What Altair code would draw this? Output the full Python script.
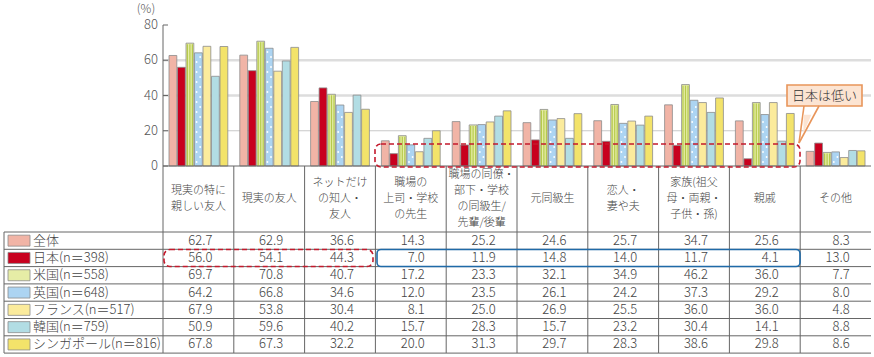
import altair as alt
import pandas as pd

# ---------------- data ----------------
categories = ["現実の特に\n親しい友人", "現実の友人", "ネットだけ\nの知人・\n友人",
              "職場の\n上司・学校\nの先生", "職場の同僚・\n部下・学校\nの同級生/\n先輩/後輩",
              "元同級生", "恋人・\n妻や夫", "家族(祖父\n母・両親・\n子供・孫)", "親戚", "その他"]
series = ["全体", "日本(n＝398)", "米国(n＝558)", "英国(n＝648)",
          "フランス(n＝517)", "韓国(n＝759)", "シンガポール(n＝816)"]
v_all = [62.7, 62.9, 36.6, 14.3, 25.2, 24.6, 25.7, 34.7, 25.6, 8.3]
v_jp = [56.0, 54.1, 44.3, 7.0, 11.9, 14.8, 14.0, 11.7, 4.1, 13.0]
v_us = [69.7, 70.8, 40.7, 17.2, 23.3, 32.1, 34.9, 46.2, 36.0, 7.7]
v_uk = [64.2, 66.8, 34.6, 12.0, 23.5, 26.1, 24.2, 37.3, 29.2, 8.0]
v_fr = [67.9, 53.8, 30.4, 8.1, 25.0, 26.9, 25.5, 36.0, 36.0, 4.8]
v_kr = [50.9, 59.6, 40.2, 15.7, 28.3, 15.7, 23.2, 30.4, 14.1, 8.8]
v_sg = [67.8, 67.3, 32.2, 20.0, 31.3, 29.7, 28.3, 38.6, 29.8, 8.6]
y_ticks = [0, 20, 40, 60, 80]
unit_label = "(%)"
callout_text = "日本は低い"

colors = ["#f1b4a6", "#c8001e", "#e6eda6", "#acd4f2", "#fbeb9c", "#b2dde4", "#f3e36a"]
stripe_color = "#b6ca4c"

all_values = [v_all, v_jp, v_us, v_uk, v_fr, v_kr, v_sg]

# ---------------- layout helpers ----------------
W, H = 874, 357
X0, PX = 163.0, 70.8      # pixel of x=0, pixels per category
Y0, PY = 166.0, 1.7625    # pixel of y=0, pixels per percent
ROW_TOP, ROW_H = 232.0, 17.3
FONT = "Noto Sans CJK JP"
TXT = "#444444"


def ux(p):
    return (p - X0) / PX


def uy(p):
    return (Y0 - p) / PY


def row_y(si, off=0.0):
    return uy(ROW_TOP + ROW_H * (si + 0.5) + off)


xs = alt.Scale(domain=[ux(0), ux(W)], nice=False, zero=False)
ys = alt.Scale(domain=[uy(H), uy(0)], nice=False, zero=False)


def X(f):
    return alt.X(f, type="quantitative", scale=xs, axis=None)


def Y(f):
    return alt.Y(f, type="quantitative", scale=ys, axis=None)


pitch = 8.5 / PX
gap = 0.35 / PX

rows = []
stripes = []
dots = []
for si, (s, vals) in enumerate(zip(series, all_values)):
    for ci, v in enumerate(vals):
        xc = ci + 0.5 + (si - 3) * pitch
        rows.append({
            "series": s, "si": si, "ci": ci, "value": v, "zero": 0.0,
            "x1": xc - pitch / 2 + gap, "x2": xc + pitch / 2 - gap,
            "xn": ci + 0.5 + 14 / PX, "yn": row_y(si),
        })
        if si == 2:  # vertical stripes pattern of 米国
            for off in (-2.5, 0.0, 2.5):
                stripes.append((xc + off / PX, 0.0, xc + off / PX, v - 0.6))
        if si == 3:  # white dot pattern of 英国
            k = 0
            yp = 4.0
            while yp < v * PY - 2.5:
                dots.append((xc + (-1.8 if k % 2 == 0 else 1.8) / PX, yp / PY))
                yp += 5.0
                k += 1
df = pd.DataFrame(rows)

color_enc = alt.Color("series:N", scale=alt.Scale(domain=series, range=colors), legend=None)

bars = alt.Chart(df).mark_rect(stroke="#8c8c8c", strokeWidth=0.8).encode(
    x=X("x1"), x2="x2:Q", y=Y("value"), y2="zero:Q", color=color_enc,
)


def seg_chart(data, **mark):
    return alt.Chart(pd.DataFrame(data, columns=["x", "y", "x2", "y2"])).mark_rule(**mark).encode(
        x=X("x"), y=Y("y"), x2="x2:Q", y2="y2:Q",
    )


# legend column
leg_df = pd.DataFrame({
    "series": series,
    "xa": [ux(8)] * 7, "xb": [ux(30)] * 7, "xt": [ux(33)] * 7,
    "yc": [row_y(i) for i in range(7)],
    "ya": [row_y(i, -5.5) for i in range(7)],
    "yb": [row_y(i, 5.5) for i in range(7)],
})
for k in range(7):
    xp = 9.5 + 3.0 * k
    stripes.append((ux(xp), row_y(2, 5.0), ux(xp), row_y(2, -5.0)))
for r in range(3):
    for k in range(6):
        xp = 10.0 + 3.7 * k + (1.8 if r % 2 else 0)
        if xp < 29:
            dots.append((ux(xp), row_y(3, -3.5 + 3.5 * r)))

stripe_layer = seg_chart(stripes, color=stripe_color, strokeWidth=1.2)
dot_layer = alt.Chart(pd.DataFrame(dots, columns=["x", "y"])).mark_point(
    shape="circle", filled=True, color="white", opacity=1, size=3.5
).encode(x=X("x"), y=Y("y"))

# gridlines
grid_thin = seg_chart([(0, 20, 10, 20)], color="#c8c8c8", strokeWidth=1)
grid_thick = seg_chart([(0, 40, 10, 40), (0, 60, 10, 60)], color="#dddddd", strokeWidth=2.5)

# y axis ticks + labels
ticks = seg_chart([(0, t, ux(X0 + 5), t) for t in y_ticks], color="#666", strokeWidth=1)
tl_df = pd.DataFrame({"v": y_ticks, "x": [ux(X0 - 5)] * len(y_ticks)})
tick_labels = alt.Chart(tl_df).mark_text(
    align="right", baseline="middle", font=FONT, fontSize=13, color="#555", fontWeight=300
).encode(x=X("x"), y=Y("v"), text="v:Q")

unit = alt.Chart(pd.DataFrame({"t": [unit_label], "x": [ux(146)], "y": [uy(9)]})).mark_text(
    align="center", baseline="middle", font=FONT, fontSize=12, color="#555", fontWeight=300
).encode(x=X("x"), y=Y("y"), text="t:N")

# structural lines (axis, table grid)
lines = [(0, uy(25), 0, uy(353)), (0, 0, 10, 0)]
for k in range(1, 10):
    lines.append((k, 0, k, uy(353)))
for r in range(8):
    yp = ROW_TOP + ROW_H * r
    lines.append((ux(4), uy(yp), 10, uy(yp)))
lines.append((ux(4), uy(ROW_TOP), ux(4), uy(353)))
table_lines = seg_chart(lines, color="#666", strokeWidth=1)

# header text (multi-line, block centred vertically in the header row)
LH = 16.0
hdr_df = pd.DataFrame({
    "cat": categories,
    "x": [c + 0.5 for c in range(10)],
    "y": [uy(199 - (cat.count("\n")) * LH / 2) for cat in categories],
})
header = alt.Chart(hdr_df).mark_text(
    align="center", baseline="middle", font=FONT, fontSize=11, color=TXT, fontWeight=300,
    lineBreak="\n", lineHeight=LH,
).encode(x=X("x"), y=Y("y"), text="cat:N")

# table numbers
nums = alt.Chart(df).mark_text(align="right", baseline="middle", font=FONT, fontSize=13,
                               color=TXT, fontWeight=300).encode(
    x=X("xn"), y=Y("yn"), text=alt.Text("value:Q", format=".1f")
)

leg_sw = alt.Chart(leg_df).mark_rect(stroke="#8c8c8c", strokeWidth=0.8).encode(
    x=X("xa"), x2="xb:Q", y=Y("ya"), y2="yb:Q", color=color_enc,
)
leg_txt = alt.Chart(leg_df).mark_text(align="left", baseline="middle", font=FONT, fontSize=13,
                                      color=TXT, fontWeight=300).encode(
    x=X("xt"), y=Y("yc"), text="series:N"
)


def box_chart(data, **mark):
    return alt.Chart(pd.DataFrame(data, columns=["x", "x2", "y", "y2"])).mark_rect(**mark).encode(
        x=X("x"), x2="x2:Q", y=Y("y"), y2="y2:Q"
    )


red_boxes = box_chart(
    [(ux(375), ux(800), uy(144), uy(167)), (ux(164), ux(373), uy(249.5), uy(266.5))],
    fillOpacity=0, stroke="#c41a2c", strokeWidth=1.6, strokeDash=[5, 3], cornerRadius=6,
)
blue_box = box_chart(
    [(ux(377), ux(800), uy(249.5), uy(266.5))],
    fillOpacity=0, stroke="#1f6aa8", strokeWidth=1.6, cornerRadius=4,
)

# callout
call_box = box_chart([(ux(787), ux(862), uy(85), uy(106))],
                     fill="#fce4d2", stroke="#e8955a", strokeWidth=1.6)
edges = seg_chart([(ux(804), uy(106), ux(799), uy(143)), (ux(819), uy(106), ux(799), uy(143))],
                  color="#e8955a", strokeWidth=1.6)
tri_df = pd.DataFrame({"x": [ux(807.5)], "y": [uy(124)]})
tri = alt.Chart(tri_df).mark_point(
    shape="M -0.42 -1 L 0.42 -1 L -0.45 1 Z", filled=True, fill="#fce4d2", opacity=1,
    size=18.5 * 18.5, strokeWidth=0,
).encode(x=X("x"), y=Y("y"))
call_txt = alt.Chart(pd.DataFrame({"t": [callout_text], "x": [ux(824.5)], "y": [uy(95.5)]})).mark_text(
    align="center", baseline="middle", font=FONT, fontSize=13, color="#333", fontWeight=300
).encode(x=X("x"), y=Y("y"), text="t:N")

chart = alt.layer(
    grid_thin, grid_thick, bars, stripe_layer, dot_layer, table_lines, ticks, tick_labels,
    unit, header, nums, leg_sw, leg_txt, red_boxes, blue_box, call_box, edges, tri, call_txt,
).properties(
    width=W, height=H, padding=0, autosize=alt.AutoSizeParams(type="none"),
    background="white",
).configure_view(strokeWidth=0)

chart.save("out.html", embed_options={"renderer": "svg", "actions": False})
